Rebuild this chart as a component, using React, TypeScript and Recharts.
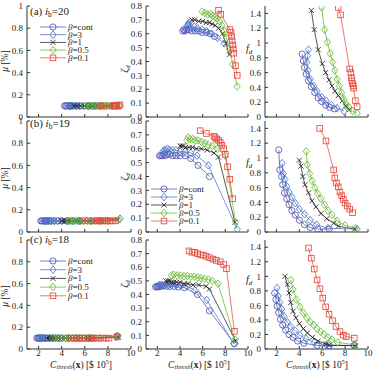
import { ScatterChart, Scatter, XAxis, YAxis, Legend } from 'recharts'

const FONT = '"Liberation Serif", "DejaVu Serif", serif'

// (a) i_b = 20
const aContX = [4.25, 4.35, 4.45, 4.6, 4.8, 5.05, 5.35, 5.65, 5.95, 6.3, 6.65, 7.05]
const aContMu = [0.1, 0.1, 0.1, 0.1, 0.1, 0.1, 0.1, 0.1, 0.1, 0.1, 0.1, 0.1]
const aContZeta = [0.62, 0.63, 0.62, 0.63, 0.63, 0.62, 0.62, 0.62, 0.61, 0.61, 0.6, 0.58]
const aContFd = [0.85, 0.76, 0.67, 0.58, 0.49, 0.41, 0.33, 0.26, 0.21, 0.16, 0.13, 0.11]

const aDiaX = [4.8, 4.72, 4.66, 4.75, 4.95, 5.25, 5.55, 5.95, 6.35, 6.8, 7.3, 7.9]
const aDiaMu = [0.1, 0.1, 0.1, 0.1, 0.1, 0.1, 0.1, 0.1, 0.1, 0.1, 0.1, 0.1]
const aDiaZeta = [0.68, 0.67, 0.66, 0.66, 0.65, 0.65, 0.64, 0.63, 0.62, 0.6, 0.57, 0.53]
const aDiaFd = [0.91, 0.83, 0.74, 0.63, 0.51, 0.42, 0.35, 0.27, 0.22, 0.16, 0.12, 0.08]

const aOneX = [5.05, 5.3, 5.65, 6.0, 6.3, 6.6, 6.85, 7.1, 7.4, 7.75, 8.05, 8.35]
const aOneMu = [0.1, 0.1, 0.1, 0.1, 0.1, 0.1, 0.1, 0.1, 0.1, 0.1, 0.1, 0.1]
const aOneZeta = [0.7, 0.7, 0.69, 0.69, 0.68, 0.68, 0.67, 0.66, 0.64, 0.6, 0.53, 0.45]
const aOneFd = [1.44, 1.18, 0.91, 0.72, 0.6, 0.5, 0.42, 0.35, 0.29, 0.22, 0.15, 0.1]

const aHalfX = [5.95, 6.2, 6.45, 6.7, 6.9, 7.1, 7.3, 7.5, 7.7, 7.9, 8.1, 8.35, 8.65, 9.05]
const aHalfMu = [0.1, 0.1, 0.1, 0.1, 0.1, 0.1, 0.1, 0.1, 0.1, 0.1, 0.1, 0.1, 0.1, 0.1]
const aHalfZeta = [0.76, 0.75, 0.74, 0.74, 0.73, 0.72, 0.71, 0.69, 0.66, 0.62, 0.57, 0.49, 0.38, 0.22]
const aHalfFd = [1.48, 1.18, 1.01, 0.86, 0.74, 0.63, 0.51, 0.42, 0.33, 0.24, 0.17, 0.13, 0.08, 0.05]

const aTenthX = [7.4, 7.6, 8.4, 8.5, 8.55, 8.6, 8.65, 8.7, 8.75, 8.9, 9.05]
const aTenthMu = [0.1, 0.1, 0.1, 0.1, 0.1, 0.1, 0.1, 0.1, 0.1, 0.1, 0.11]
const aTenthZeta = [0.77, 0.74, 0.63, 0.61, 0.58, 0.55, 0.52, 0.49, 0.46, 0.37, 0.3]
const aTenthFd = [1.48, 1.38, 0.65, 0.6, 0.53, 0.49, 0.45, 0.42, 0.39, 0.22, 0.14]

// (b) i_b = 19
const bContX = [2.2, 2.3, 2.45, 2.55, 2.7, 2.9, 3.1, 3.35, 3.65, 4.0, 4.45, 4.95, 5.6, 6.6]
const bContMu = [0.1, 0.1, 0.1, 0.1, 0.1, 0.1, 0.1, 0.1, 0.1, 0.1, 0.1, 0.1, 0.1, 0.1]
const bContZeta = [0.55, 0.55, 0.55, 0.56, 0.55, 0.56, 0.56, 0.55, 0.55, 0.55, 0.55, 0.53, 0.48, 0.4]
const bContFd = [1.11, 0.84, 0.75, 0.64, 0.53, 0.45, 0.37, 0.29, 0.23, 0.16, 0.1, 0.06, 0.04, 0.04]

const bDiaX = [2.5, 2.6, 2.75, 2.9, 3.1, 3.35, 3.65, 4.0, 4.45, 4.95, 5.5, 6.5, 9.05]
const bDiaMu = [0.1, 0.1, 0.1, 0.1, 0.1, 0.1, 0.1, 0.1, 0.1, 0.1, 0.1, 0.1, 0.12]
const bDiaZeta = [0.58, 0.59, 0.59, 0.6, 0.59, 0.59, 0.59, 0.58, 0.58, 0.57, 0.55, 0.48, 0.02]
const bDiaFd = [0.93, 0.79, 0.71, 0.62, 0.54, 0.47, 0.39, 0.31, 0.24, 0.16, 0.1, 0.05, 0.04]

const bOneX = [4.0, 4.15, 4.3, 4.5, 4.8, 5.1, 5.45, 5.9, 6.4, 7.0, 7.4, 8.85]
const bOneMu = [0.1, 0.1, 0.1, 0.1, 0.1, 0.1, 0.1, 0.1, 0.1, 0.1, 0.1, 0.11]
const bOneZeta = [0.62, 0.62, 0.62, 0.61, 0.61, 0.61, 0.6, 0.6, 0.59, 0.57, 0.54, 0.07]
const bOneFd = [0.97, 0.89, 0.75, 0.64, 0.53, 0.42, 0.34, 0.25, 0.18, 0.12, 0.08, 0.04]

const bHalfX = [4.6, 4.7, 4.9, 5.12, 5.35, 5.6, 5.9, 6.2, 6.5, 6.85, 7.3, 8.0, 8.9]
const bHalfMu = [0.1, 0.1, 0.1, 0.1, 0.1, 0.1, 0.1, 0.1, 0.1, 0.1, 0.1, 0.1, 0.11]
const bHalfZeta = [0.66, 0.68, 0.67, 0.67, 0.66, 0.66, 0.65, 0.64, 0.63, 0.62, 0.6, 0.55, 0.07]
const bHalfFd = [1.09, 0.91, 0.79, 0.69, 0.6, 0.52, 0.45, 0.37, 0.29, 0.23, 0.15, 0.09, 0.05]

const bTenthX = [5.78, 6.33, 7.0, 7.1, 7.25, 7.4, 7.55, 7.7, 7.85, 8.0, 8.2, 8.4, 8.65]
const bTenthMu = [0.1, 0.1, 0.1, 0.1, 0.1, 0.1, 0.1, 0.1, 0.1, 0.1, 0.1, 0.1, 0.1]
const bTenthZeta = [0.73, 0.71, 0.69, 0.68, 0.67, 0.66, 0.645, 0.625, 0.6, 0.56, 0.47, 0.38, 0.24]
const bTenthFd = [1.4, 1.23, 0.84, 0.73, 0.66, 0.61, 0.54, 0.49, 0.44, 0.39, 0.35, 0.31, 0.26]

// (c) i_b = 18
const cContX = [1.85, 1.95, 2.05, 2.2, 2.35, 2.55, 2.8, 3.1, 3.45, 3.85, 4.4, 5.55, 6.6, 8.8]
const cContMu = [0.1, 0.1, 0.1, 0.1, 0.1, 0.1, 0.1, 0.1, 0.1, 0.1, 0.1, 0.1, 0.1, 0.12]
const cContZeta = [0.455, 0.46, 0.455, 0.46, 0.46, 0.465, 0.46, 0.46, 0.46, 0.455, 0.45, 0.4, 0.28, 0.04]
const cContFd = [0.77, 0.68, 0.59, 0.5, 0.41, 0.33, 0.26, 0.2, 0.16, 0.11, 0.08, 0.05, 0.045, 0.05]

const cDiaX = [2.05, 2.15, 2.3, 2.45, 2.65, 2.95, 3.25, 3.65, 4.05, 4.6, 5.3, 6.35, 8.75]
const cDiaMu = [0.1, 0.1, 0.1, 0.1, 0.1, 0.1, 0.1, 0.1, 0.1, 0.1, 0.1, 0.1, 0.11]
const cDiaZeta = [0.46, 0.47, 0.47, 0.47, 0.47, 0.47, 0.47, 0.47, 0.465, 0.46, 0.43, 0.36, 0.04]
const cDiaFd = [0.84, 0.73, 0.64, 0.55, 0.45, 0.37, 0.31, 0.25, 0.19, 0.14, 0.09, 0.055, 0.05]

const cOneX = [2.75, 2.95, 3.1, 3.25, 3.45, 3.7, 4.0, 4.35, 4.7, 5.15, 5.65, 6.3, 6.6, 8.9]
const cOneMu = [0.1, 0.1, 0.1, 0.1, 0.1, 0.1, 0.1, 0.1, 0.1, 0.1, 0.1, 0.1, 0.1, 0.11]
const cOneZeta = [0.5, 0.5, 0.5, 0.49, 0.49, 0.49, 0.49, 0.48, 0.48, 0.47, 0.47, 0.46, 0.44, 0.06]
const cOneFd = [1.0, 0.89, 0.77, 0.64, 0.52, 0.43, 0.35, 0.28, 0.22, 0.16, 0.11, 0.07, 0.05, 0.045]

const cHalfX = [3.25, 3.45, 3.75, 4.05, 4.35, 4.65, 4.95, 5.25, 5.55, 5.85, 6.15, 6.5, 6.85, 7.35, 8.85]
const cHalfMu = [0.1, 0.1, 0.1, 0.1, 0.1, 0.1, 0.1, 0.1, 0.1, 0.1, 0.1, 0.1, 0.1, 0.1, 0.12]
const cHalfZeta = [0.54, 0.545, 0.54, 0.54, 0.535, 0.535, 0.53, 0.53, 0.525, 0.52, 0.515, 0.51, 0.5, 0.48, 0.07]
const cHalfFd = [0.95, 0.82, 0.68, 0.58, 0.5, 0.43, 0.37, 0.33, 0.28, 0.24, 0.2, 0.16, 0.13, 0.09, 0.06]

const cTenthX = [4.8, 5.05, 5.3, 5.55, 5.8, 6.05, 6.3, 6.6, 6.9, 7.2, 7.55, 7.85, 8.1, 8.8]
const cTenthMu = [0.1, 0.1, 0.1, 0.1, 0.1, 0.1, 0.1, 0.1, 0.1, 0.1, 0.1, 0.1, 0.1, 0.11]
const cTenthZeta = [0.72, 0.71, 0.71, 0.7, 0.69, 0.69, 0.68, 0.67, 0.66, 0.65, 0.64, 0.62, 0.59, 0.13]
const cTenthFd = [1.39, 1.25, 1.1, 0.95, 0.83, 0.7, 0.58, 0.48, 0.39, 0.31, 0.24, 0.19, 0.17, 0.15]

const betaLabels = ['cont', '3', '1', '0.5', '0.1']
const betaColors = ['#5252b4', '#4876c8', '#222222', '#68b830', '#e8493d']
const betaShapes = ['circle', 'diamond', 'x', 'diamond', 'square']

const xTicks = [2, 4, 6, 8, 10]
const muTicks = [0, 0.2, 0.4, 0.6, 0.8, 1]
const zetaTicks = [0, 0.1, 0.2, 0.3, 0.4, 0.5, 0.6, 0.7, 0.8]
const fdTicks = [0, 0.2, 0.4, 0.6, 0.8, 1, 1.2, 1.4]

const panelRows = [
  { tag: 'a', ib: '20', x: [aContX, aDiaX, aOneX, aHalfX, aTenthX], mu: [aContMu, aDiaMu, aOneMu, aHalfMu, aTenthMu], zeta: [aContZeta, aDiaZeta, aOneZeta, aHalfZeta, aTenthZeta], fd: [aContFd, aDiaFd, aOneFd, aHalfFd, aTenthFd] },
  { tag: 'b', ib: '19', x: [bContX, bDiaX, bOneX, bHalfX, bTenthX], mu: [bContMu, bDiaMu, bOneMu, bHalfMu, bTenthMu], zeta: [bContZeta, bDiaZeta, bOneZeta, bHalfZeta, bTenthZeta], fd: [bContFd, bDiaFd, bOneFd, bHalfFd, bTenthFd] },
  { tag: 'c', ib: '18', x: [cContX, cDiaX, cOneX, cHalfX, cTenthX], mu: [cContMu, cDiaMu, cOneMu, cHalfMu, cTenthMu], zeta: [cContZeta, cDiaZeta, cOneZeta, cHalfZeta, cTenthZeta], fd: [cContFd, cDiaFd, cOneFd, cHalfFd, cTenthFd] },
]

// plot boxes (left/width per column, top/height per row)
const cols = [
  { key: 'mu', L: 27, W: 104, domain: [0, 1], ticks: muTicks },
  { key: 'zeta', L: 146, W: 102, domain: [0, 0.8], ticks: zetaTicks },
  { key: 'fd', L: 265, W: 103, domain: [0, 1.5], ticks: fdTicks },
]
const rowBoxes = [
  { T: 6, H: 111 },
  { T: 121, H: 111 },
  { T: 240, H: 109 },
]
const YW = 26
const MT = 4
const MR = 5
const XH = 14

// where the legends sit (first entry), per panel
const legends = [
  { row: 0, col: 0, x: 40, y: 27, gap: 7.7 },
  { row: 1, col: 1, x: 151, y: 189, gap: 8 },
  { row: 2, col: 0, x: 40, y: 261, gap: 8.7 },
]

function Marker({ cx, cy, shape, color }: any) {
  if (cx == null || cy == null) return null
  const common = { fill: 'none', stroke: color, strokeWidth: 0.85 }
  if (shape === 'circle') return <circle cx={cx} cy={cy} r={3.1} {...common} />
  if (shape === 'diamond')
    return <polygon points={`${cx},${cy - 3.8} ${cx + 3.1},${cy} ${cx},${cy + 3.8} ${cx - 3.1},${cy}`} {...common} />
  if (shape === 'square') return <rect x={cx - 2.8} y={cy - 2.8} width={5.6} height={5.6} {...common} />
  return (
    <path
      d={`M${cx - 2.5},${cy - 2.5}L${cx + 2.5},${cy + 2.5}M${cx - 2.5},${cy + 2.5}L${cx + 2.5},${cy - 2.5}`}
      {...common}
    />
  )
}

function LegendBox({ gap }: { gap: number }) {
  return (
    <svg width={62} height={gap * 4 + 8} style={{ overflow: 'visible', display: 'block' }}>
      {betaLabels.map((b, i) => {
        const y = 4 + i * gap
        return (
          <g key={b}>
            <line x1={0} x2={26} y1={y} y2={y} stroke={betaColors[i]} strokeWidth={0.75} />
            <Marker cx={13} cy={y} shape={betaShapes[i]} color={betaColors[i]} />
            <text x={28} y={y + 3} fontSize={9} fontFamily={FONT} fill="#222">
              <tspan fontStyle="italic">β</tspan>={b}
            </text>
          </g>
        )
      })}
    </svg>
  )
}

function Panel({ row, col }: { row: number; col: number }) {
  const c = cols[col]
  const r = rowBoxes[row]
  const d: any = panelRows[row]
  const left = c.L - YW
  const top = r.T - MT
  const width = YW + c.W + MR
  const height = MT + r.H + XH
  const lg = legends.find((l) => l.row === row && l.col === col)
  const tickStyle = { fontSize: 9, fill: '#222', fontFamily: FONT }
  return (
    <div style={{ position: 'absolute', left, top }}>
      <ScatterChart width={width} height={height} margin={{ top: MT, right: MR, bottom: 0, left: 0 }}>
        <XAxis
          type="number"
          dataKey="x"
          domain={[1, 10]}
          ticks={xTicks}
          interval={0}
          allowDataOverflow
          height={XH}
          stroke="#333"
          tickSize={-3}
          tickMargin={4}
          tick={row === 2 ? tickStyle : () => <g />}
        />
        <YAxis
          type="number"
          dataKey="y"
          domain={c.domain}
          ticks={c.ticks}
          interval={0}
          allowDataOverflow
          width={YW}
          stroke="#333"
          tickSize={-3}
          tickMargin={7}
          tick={tickStyle}
        />
        {betaLabels.map((b, i) => (
          <Scatter
            key={b}
            name={`β=${b}`}
            data={d.x[i].map((xv: number, k: number) => ({ x: xv, y: d[c.key][i][k] }))}
            fill={betaColors[i]}
            line={{ stroke: betaColors[i], strokeWidth: 0.75 }}
            lineJointType="linear"
            shape={(p: any) => <Marker cx={p.cx} cy={p.cy} shape={betaShapes[i]} color={betaColors[i]} />}
            isAnimationActive={false}
          />
        ))}
        {lg && (
          <Legend
            layout="vertical"
            align="center"
            verticalAlign="middle"
            content={() => <LegendBox gap={lg.gap} />}
            wrapperStyle={{ left: lg.x - left, top: lg.y - 4 - top, width: 62 }}
          />
        )}
      </ScatterChart>
    </div>
  )
}

function XTitle({ x }: { x: number }) {
  return (
    <text x={x} y={367.5} fontSize={9.5} fontFamily={FONT} fill="#222" textAnchor="middle">
      <tspan fontStyle="italic">C</tspan>
      <tspan fontStyle="italic" fontSize={6.5} dy={1.5}>thresh</tspan>
      <tspan dy={-1.5}>(</tspan>
      <tspan fontWeight="bold">x</tspan>
      <tspan>) [$ 10</tspan>
      <tspan fontSize={6} dy={-3.5}>5</tspan>
      <tspan dy={3.5}>]</tspan>
    </text>
  )
}

export default function App() {
  const titleY = [15, 127, 243]
  const muY = [61, 178, 296]
  const zetaY = [69, 177, 284]
  const fdY = [52, 166, 283]
  return (
    <div style={{ position: 'absolute', left: 0, top: 0, width: 375, height: 370, background: '#fff', overflow: 'hidden' }}>
      {[0, 1, 2].map((row) => [0, 1, 2].map((col) => <Panel key={`${row}-${col}`} row={row} col={col} />))}
      <svg width={375} height={370} style={{ position: 'absolute', left: 0, top: 0, pointerEvents: 'none' }}>
        {panelRows.map((p, i) => (
          <g key={p.tag}>
            <text x={30} y={titleY[i]} fontSize={11} fontFamily={FONT} fill="#222">
              ({p.tag}) <tspan fontStyle="italic">i</tspan>
              <tspan fontSize={7.5} dy={2}>b</tspan>
              <tspan dy={-2}>={p.ib}</tspan>
            </text>
            <text
              transform={`translate(8,${muY[i]}) rotate(-90)`}
              fontSize={9.5}
              fontFamily={FONT}
              fill="#222"
              textAnchor="middle"
            >
              <tspan fontStyle="italic">μ</tspan> [%]
            </text>
            <text
              transform={`translate(128,${zetaY[i]}) rotate(-90)`}
              fontSize={10}
              fontFamily={FONT}
              fill="#222"
              textAnchor="middle"
            >
              <tspan fontStyle="italic">ζ</tspan>
              <tspan fontStyle="italic" fontSize={7} dy={2}>d</tspan>
            </text>
            <text x={246} y={fdY[i]} fontSize={10} fontFamily={FONT} fill="#222">
              <tspan fontStyle="italic">f</tspan>
              <tspan fontStyle="italic" fontSize={7} dy={2}>d</tspan>
            </text>
          </g>
        ))}
        <XTitle x={81} />
        <XTitle x={199} />
        <XTitle x={317} />
      </svg>
    </div>
  )
}
